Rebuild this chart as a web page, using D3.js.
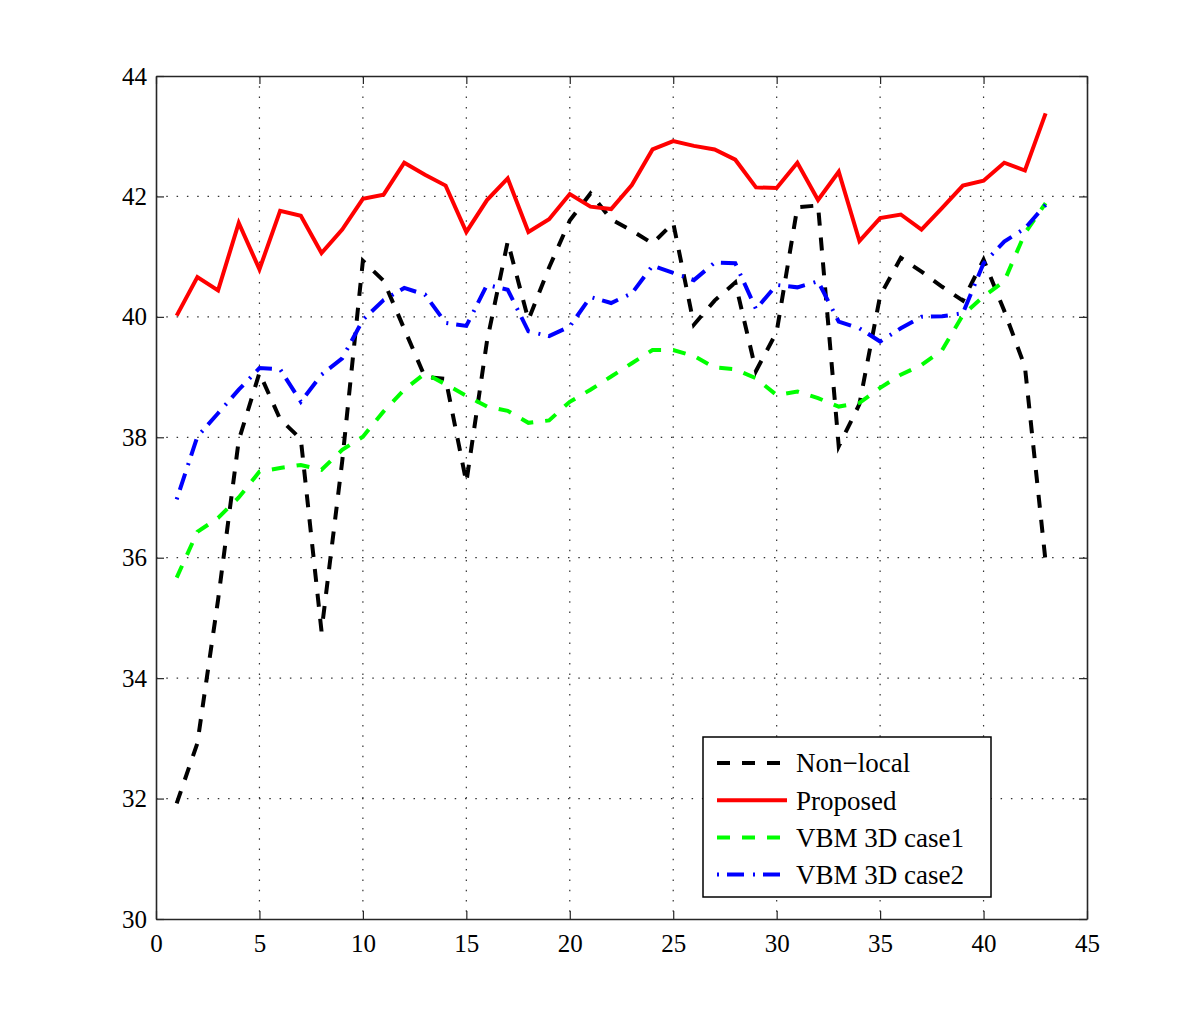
<!DOCTYPE html>
<html>
<head>
<meta charset="utf-8">
<script src="https://cdnjs.cloudflare.com/ajax/libs/d3/7.8.5/d3.min.js"></script>
<style>
  body { margin: 0; background: #fff; }
  svg { display: block; }
  .tick text { font-family: "Liberation Serif", "Times New Roman", serif; font-size: 25px; fill: #000; }
  .legend text { font-family: "Liberation Serif", "Times New Roman", serif; font-size: 27px; fill: #000; }
</style>
</head>
<body>
<svg width="1200" height="1033"></svg>
<script>
// frame index (x) and PSNR values
var frames = [1, 2, 3, 4, 5, 6, 7, 8, 9, 10, 11, 12, 13, 14, 15, 16, 17, 18, 19, 20, 21, 22,
              23, 24, 25, 26, 27, 28, 29, 30, 31, 32, 33, 34, 35, 36, 37, 38, 39, 40, 41, 42, 43];

var nonLocal = [31.92, 32.92, 35.3, 37.95, 39.07, 38.3, 37.97, 34.78, 37.6, 40.93, 40.6, 39.8,
                39.0, 38.97, 37.25, 39.6, 41.25, 39.95, 40.82, 41.6, 42.05, 41.62, 41.43, 41.22,
                41.56, 39.87, 40.27, 40.57, 39.1, 39.75, 41.82, 41.85, 37.85, 38.55, 40.35, 40.98,
                40.75, 40.5, 40.27, 40.95, 40.1, 39.17, 35.93];

var proposed = [40.02, 40.66, 40.44, 41.56, 40.79, 41.76, 41.68, 41.06, 41.45, 41.96, 42.03, 42.56,
                42.36, 42.18, 41.41, 41.94, 42.3, 41.41, 41.62, 42.04, 41.83, 41.79, 42.19, 42.78,
                42.92, 42.84, 42.78, 42.61, 42.15, 42.14, 42.56, 41.94, 42.41, 41.26, 41.64, 41.7,
                41.45, 41.81, 42.18, 42.26, 42.56, 42.43, 43.38];

var vbmCase1 = [35.67, 36.43, 36.66, 37.0, 37.43, 37.49, 37.54, 37.46, 37.79, 38.01, 38.43, 38.79,
                39.06, 38.88, 38.69, 38.51, 38.44, 38.24, 38.28, 38.59, 38.79, 39.01, 39.23, 39.45,
                39.45, 39.35, 39.16, 39.13, 38.98, 38.7, 38.76, 38.65, 38.51, 38.57, 38.82, 39.04,
                39.2, 39.45, 40.03, 40.34, 40.59, 41.39, 41.89];

var vbmCase2 = [36.97, 38.01, 38.4, 38.79, 39.15, 39.13, 38.59, 39.04, 39.31, 39.95, 40.28, 40.48,
                40.37, 39.9, 39.85, 40.53, 40.45, 39.76, 39.68, 39.84, 40.33, 40.23, 40.39, 40.85,
                40.73, 40.61, 40.9, 40.89, 40.13, 40.53, 40.49, 40.59, 39.92, 39.81, 39.59, 39.81,
                40.0, 40.01, 40.06, 40.89, 41.25, 41.47, 41.86];

var seriesNames = ["Non\u2212local", "Proposed", "VBM 3D case1", "VBM 3D case2"];
var seriesData = [nonLocal, proposed, vbmCase1, vbmCase2];
var seriesColors = ["#000000", "#ff0000", "#00ff00", "#0000ff"];
var seriesDash = ["13,12", null, "13,12", "2,8,17,9"];

var xTicks = [0, 5, 10, 15, 20, 25, 30, 35, 40, 45];
var yTicks = [30, 32, 34, 36, 38, 40, 42, 44];

var svg = d3.select("svg"),
    margin = {top: 76, right: 113, bottom: 114, left: 156},
    width = +svg.attr("width") - margin.left - margin.right,
    height = +svg.attr("height") - margin.top - margin.bottom;

var x = d3.scaleLinear().domain([0, 45]).range([0, width]);
var y = d3.scaleLinear().domain([30, 44]).range([height, 0]);

var g = svg.append("g").attr("transform", "translate(" + margin.left + "," + margin.top + ")");

g.append("rect").attr("width", width).attr("height", height).attr("fill", "#fff");

// dotted grid
g.append("g").selectAll("line.gx")
    .data(xTicks.slice(1, -1))
    .enter().append("line")
    .attr("x1", function(d) { return x(d); })
    .attr("x2", function(d) { return x(d); })
    .attr("y1", 0).attr("y2", height)
    .attr("stroke", "#333").attr("stroke-width", 1.2)
    .attr("stroke-dasharray", "1.5,8.8");

g.append("g").selectAll("line.gy")
    .data(yTicks.slice(1, -1))
    .enter().append("line")
    .attr("y1", function(d) { return y(d); })
    .attr("y2", function(d) { return y(d); })
    .attr("x1", 0).attr("x2", width)
    .attr("stroke", "#333").attr("stroke-width", 1.2)
    .attr("stroke-dasharray", "1.5,8.8");

// the four curves
var line = d3.line()
    .x(function(d, i) { return x(frames[i]); })
    .y(function(d) { return y(d); });

for (var i = 0; i < seriesData.length; i++) {
    g.append("path")
        .datum(seriesData[i])
        .attr("fill", "none")
        .attr("stroke", seriesColors[i])
        .attr("stroke-width", 4)
        .attr("stroke-linejoin", "miter")
        .attr("stroke-dasharray", seriesDash[i])
        .attr("d", line);
}

// axes, ticks pointing inward like matlab
var axisColor = "#262626";
g.append("g")
    .attr("transform", "translate(0," + height + ")")
    .call(d3.axisBottom(x).tickValues(xTicks).tickSizeInner(-8).tickSizeOuter(0).tickPadding(15));
g.append("g")
    .call(d3.axisLeft(y).tickValues(yTicks).tickSizeInner(-8).tickSizeOuter(0).tickPadding(9));
g.append("g")
    .call(d3.axisTop(x).tickValues(xTicks).tickSizeInner(-8).tickSizeOuter(0).tickFormat(""));
g.append("g")
    .attr("transform", "translate(" + width + ",0)")
    .call(d3.axisRight(y).tickValues(yTicks).tickSizeInner(-8).tickSizeOuter(0).tickFormat(""));

g.selectAll(".domain").attr("stroke", axisColor).attr("stroke-width", 1.6);
g.selectAll(".tick line").attr("stroke", axisColor).attr("stroke-width", 1.2);
g.selectAll(".tick text").attr("fill", "#000");

// legend
var leg = svg.append("g").attr("class", "legend").attr("transform", "translate(703,737)");
leg.append("rect")
    .attr("width", 288).attr("height", 160)
    .attr("fill", "#fff").attr("stroke", "#000").attr("stroke-width", 1.5);

for (var j = 0; j < seriesNames.length; j++) {
    var ly = 26 + j * 37.2;
    leg.append("line")
        .attr("x1", 14).attr("x2", 84)
        .attr("y1", ly).attr("y2", ly)
        .attr("stroke", seriesColors[j])
        .attr("stroke-width", 4)
        .attr("stroke-dasharray", seriesDash[j]);
    leg.append("text")
        .attr("x", 93).attr("y", ly)
        .attr("dy", "0.35em")
        .text(seriesNames[j]);
}
</script>
</body>
</html>
